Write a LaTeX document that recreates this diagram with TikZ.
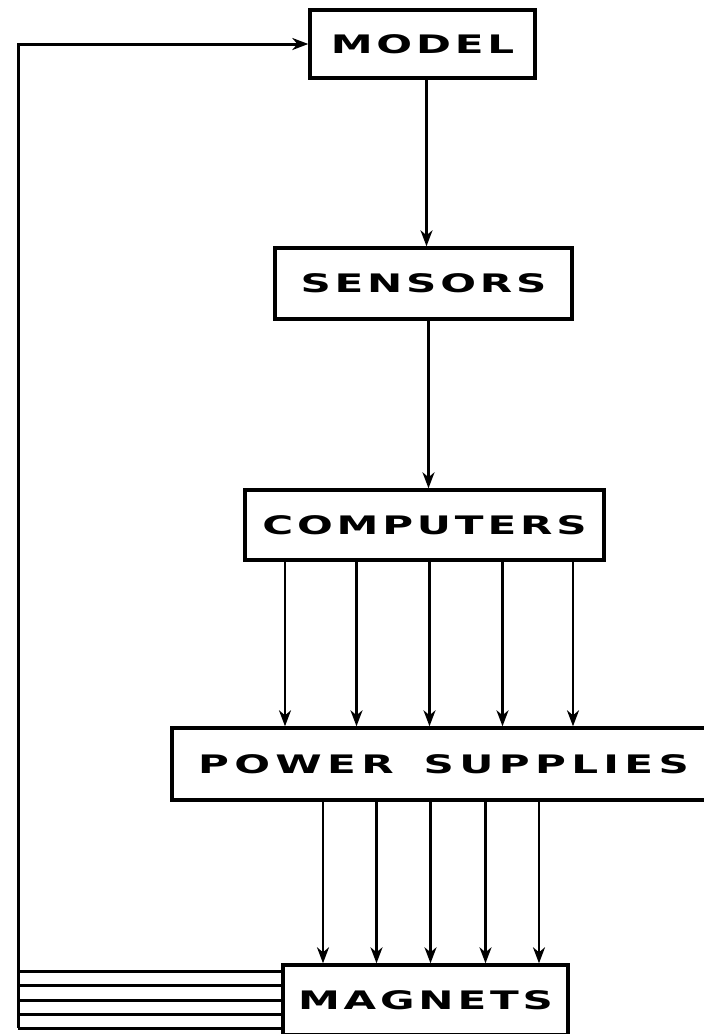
\documentclass[tikz,border=0pt]{standalone}
\usepackage{fontspec}
\usetikzlibrary{arrows.meta, positioning, calc}
\newfontfamily\letterfont[FakeStretch=1.65,LetterSpace=15]{DejaVu Sans}

\begin{document}
\begin{tikzpicture}[
  x=1pt, y=-1pt,
  every node/.style={font=\letterfont\bfseries\fontsize{25.5}{28}\selectfont},
  blk/.style={draw,line width=3.4pt,inner sep=0pt,minimum height=70pt},
  arr/.style={-{Stealth[length=16pt,width=12pt,inset=5pt]},line width=2.4pt},
  bus/.style={line width=3pt}
]
\clip (0,0) rectangle (704,1034);
\fill[white] (0,0) rectangle (704,1034);

\node[blk,minimum width=225pt,minimum height=68pt] (model)   at (422.5,44)   {MODEL};
\node[blk,minimum width=297pt,minimum height=71pt] (sensors) at (423.5,283.5) {SENSORS};
\node[blk,minimum width=359pt]                     (computers) at (424.5,525) {COMPUTERS};
\node[blk,minimum width=543pt,minimum height=72pt] (supplies) at (443.5,764)
  {\addfontfeature{LetterSpace=21}POWER\hspace{30pt}SUPPLIES};
\node[blk,minimum width=285pt]                     (magnets) at (425.5,1000) {MAGNETS};
\coordinate (bus) at (18,1028);

% Model → Sensors
\draw[arr] ([xshift=4pt]model.south) -- ([xshift=4pt]model.south |- sensors.north);

% Sensors → Computers
\draw[arr] ([xshift=5pt]sensors.south) -- ([xshift=5pt]sensors.south |- computers.north);

% Computers → Power supplies
\draw[arr] ([xshift=-139.5pt]computers.south) -- ([xshift=-139.5pt]computers.south |- supplies.north);
\draw[arr] ([xshift=-68pt]computers.south) -- ([xshift=-68pt]computers.south |- supplies.north);
\draw[arr] ([xshift=5pt]computers.south) -- ([xshift=5pt]computers.south |- supplies.north);
\draw[arr] ([xshift=78pt]computers.south) -- ([xshift=78pt]computers.south |- supplies.north);
\draw[arr] ([xshift=148.5pt]computers.south) -- ([xshift=148.5pt]computers.south |- supplies.north);

% Power supplies → Magnets
\draw[arr] ([xshift=-102.5pt]magnets.north |- supplies.south) -- ([xshift=-102.5pt]magnets.north);
\draw[arr] ([xshift=-49pt]magnets.north |- supplies.south) -- ([xshift=-49pt]magnets.north);
\draw[arr] ([xshift=5pt]magnets.north |- supplies.south) -- ([xshift=5pt]magnets.north);
\draw[arr] ([xshift=60pt]magnets.north |- supplies.south) -- ([xshift=60pt]magnets.north);
\draw[arr] ([xshift=113.5pt]magnets.north |- supplies.south) -- ([xshift=113.5pt]magnets.north);

% Magnets → bus (five return lines)
\draw[bus] ([yshift=29pt]magnets.west) -| (bus);
\draw[bus] ([yshift=15pt]magnets.west) -| (bus);
\draw[bus] (magnets.west) -| (bus);
\draw[bus] ([yshift=-14pt]magnets.west) -| (bus);
\draw[bus] ([yshift=-28pt]magnets.west) -| (bus);

% Bus → Model (feedback)
\draw[arr,line width=3pt] (bus) |- (model.west);

\end{tikzpicture}
\end{document}
